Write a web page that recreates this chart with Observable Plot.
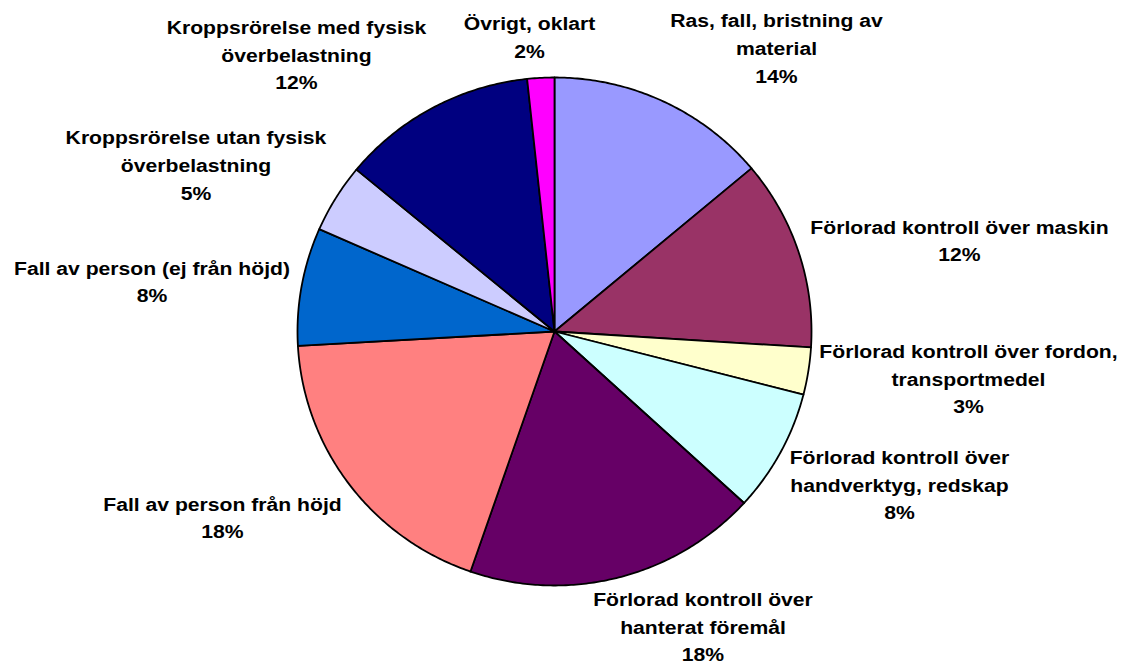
<!DOCTYPE html>
<html>
<head>
<meta charset="utf-8">
<script src="https://cdn.jsdelivr.net/npm/d3@7"></script>
<script src="https://cdn.jsdelivr.net/npm/@observablehq/plot@0.6"></script>
<style>
  html, body { margin: 0; padding: 0; background: #ffffff; }
  #chart svg { display: block; }
</style>
</head>
<body>
<div id="chart"></div>
<script>
// ---- Data (clockwise from 12 o'clock) ----
const categories = [
  "Ras, fall, bristning av material",
  "Förlorad kontroll över maskin",
  "Förlorad kontroll över fordon, transportmedel",
  "Förlorad kontroll över handverktyg, redskap",
  "Förlorad kontroll över hanterat föremål",
  "Fall av person från höjd",
  "Fall av person (ej från höjd)",
  "Kroppsrörelse utan fysisk överbelastning",
  "Kroppsrörelse med fysisk överbelastning",
  "Övrigt, oklart"
];
const values = [13.9, 12.1, 3.0, 7.8, 18.5, 18.8, 7.5, 4.4, 12.3, 1.7];
const percentLabels = ["14%", "12%", "3%", "8%", "18%", "18%", "8%", "5%", "12%", "2%"];
const wrappedNames = [
  "Ras, fall, bristning av\nmaterial",
  "Förlorad kontroll över maskin",
  "Förlorad kontroll över fordon,\ntransportmedel",
  "Förlorad kontroll över\nhandverktyg, redskap",
  "Förlorad kontroll över\nhanterat föremål",
  "Fall av person från höjd",
  "Fall av person (ej från höjd)",
  "Kroppsrörelse utan fysisk\növerbelastning",
  "Kroppsrörelse med fysisk\növerbelastning",
  "Övrigt, oklart"
];
const colors = ["#9999FF", "#993366", "#FFFFCC", "#CCFFFF", "#660066",
                "#FF8080", "#0066CC", "#CCCCFF", "#000080", "#FF00FF"];

// ---- Layout (pixels) ----
const W = 1122, H = 665;
const CX = 554, CY = 331, RX = 257, RY = 254;
// label anchor: [centre x, middle baseline y]
const labelPx = [
  [776, 54.5], [959, 247.2], [968, 385], [899, 491], [702.5, 633],
  [222, 524], [151.5, 287.8], [195.5, 171.5], [296, 61], [529, 43.7]
];
const FS = 18, LH = 1.53, STRETCH = 1.175;

// ---- Build slices via d3.pie ----
const arcs = d3.pie().sort(null).value(d => d)(values);
const slicePts = [];
arcs.forEach((a, i) => {
  const cat = categories[i];
  slicePts.push({x: 0, y: 0, cat});
  const n = Math.max(4, Math.ceil((a.endAngle - a.startAngle) / 0.01));
  for (let k = 0; k <= n; ++k) {
    const t = a.startAngle + (a.endAngle - a.startAngle) * k / n;
    slicePts.push({x: Math.sin(t), y: Math.cos(t), cat});
  }
  slicePts.push({x: 0, y: 0, cat});
});

const toX = px => (px - CX) / RX;
const toY = py => (CY - py) / RY;
const labels = categories.map((c, i) => ({
  text: wrappedNames[i] + "\n" + percentLabels[i],
  x: toX(labelPx[i][0]),
  y: toY(labelPx[i][1] - 0.32 * LH * FS)
}));

const chart = Plot.plot({
  width: W,
  height: H,
  margin: 0,
  x: {domain: [-1, 1], range: [CX - RX, CX + RX], axis: null},
  y: {domain: [-1, 1], range: [CY + RY, CY - RY], axis: null},
  color: {domain: categories, range: colors},
  style: {background: "#ffffff"},
  marks: [
    Plot.line(slicePts, {
      x: "x", y: "y", z: "cat", fill: "cat",
      stroke: "#000000", strokeWidth: 1.8, strokeLinejoin: "round", curve: "linear"
    }),
    Plot.text(labels, {
      x: "x", y: "y", text: "text",
      fontFamily: "'Liberation Sans', Arial, sans-serif",
      fontWeight: "bold", fontSize: FS, lineHeight: LH,
      lineAnchor: "middle", textAnchor: "middle", fill: "#000000"
    })
  ]
});

chart.querySelectorAll('g[aria-label="text"] text').forEach(t => {
  const tr = t.getAttribute("transform") || "";
  t.setAttribute("transform", tr + ` scale(${STRETCH},1)`);
});

document.getElementById("chart").appendChild(chart);
</script>
</body>
</html>
